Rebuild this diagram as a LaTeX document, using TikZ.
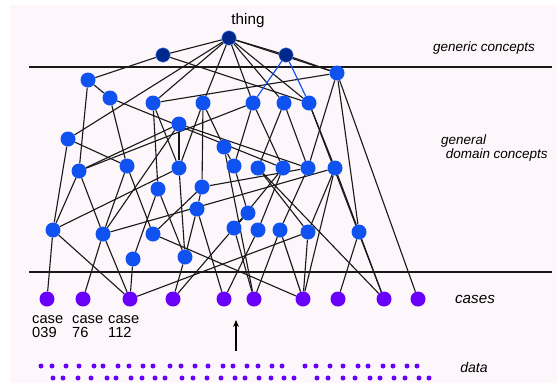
\documentclass[tikz,border=0pt]{standalone}
\usepackage{fontspec}
\setmainfont{Liberation Sans}
\usetikzlibrary{arrows.meta}

\definecolor{bgpink}{RGB}{253,246,250}
\definecolor{conceptblue}{RGB}{16,82,240}
\definecolor{topblue}{RGB}{0,40,140}
\definecolor{casepurple}{RGB}{104,0,250}
\pgfdeclarelayer{bg}
\pgfdeclarelayer{edges}
\pgfsetlayers{bg,edges,main}

\begin{document}
\begin{tikzpicture}[
        x=0.03cm, y=-0.03cm,
        concept/.style={circle, fill=conceptblue, inner sep=0pt, minimum size=0.45cm},
        topconcept/.style={circle, fill=topblue, draw=conceptblue!70, line width=0.4pt, inner sep=0pt, minimum size=0.43cm},
        case/.style={circle, fill=casepurple, inner sep=0pt, minimum size=0.45cm},
        datum/.style={circle, fill=casepurple, inner sep=0pt, minimum size=0.15cm},
        link/.style={black!90, line width=0.95pt},
        bluelink/.style={conceptblue, line width=1pt},
        layername/.style={font=\itshape\fontsize{11.5}{13}\selectfont},
        caselabel/.style={font=\fontsize{12.5}{12.5}\selectfont, align=left, anchor=north west, inner sep=0pt}
    ]
    \useasboundingbox (0,0) rectangle (557,383);
    \begin{pgfonlayer}{bg}
        \fill[bgpink] (10,5) rectangle (557,383);
    \end{pgfonlayer}

    % top and generic concepts
    \node[topconcept] (thing) at (229,38) {};
    \node[font=\fontsize{13}{15}\selectfont] at (248,21) {thing};
    \node[topconcept] (g1) at (163,55) {};
    \node[topconcept] (g2) at (286,55) {};

    % general domain concepts
    \node[concept] (a1) at (88,80) {};
    \node[concept] (a2) at (337,73) {};
    \node[concept] (b1) at (110,98) {};
    \node[concept] (b2) at (153,103) {};
    \node[concept] (b3) at (203,103) {};
    \node[concept] (b4) at (253,103) {};
    \node[concept] (b5) at (284,103) {};
    \node[concept] (b6) at (309,103) {};
    \node[concept] (c1) at (179,124) {};
    \node[concept] (c2) at (68,139) {};
    \node[concept] (c3) at (224,147) {};
    \node[concept] (d1) at (79,171) {};
    \node[concept] (d2) at (127,166) {};
    \node[concept] (d3) at (179,168) {};
    \node[concept] (d4) at (234,166) {};
    \node[concept] (d5) at (258,168) {};
    \node[concept] (d6) at (283,168) {};
    \node[concept] (d7) at (308,168) {};
    \node[concept] (d8) at (335,168) {};
    \node[concept] (e1) at (158,189) {};
    \node[concept] (e2) at (202,187) {};
    \node[concept] (f1) at (197,209) {};
    \node[concept] (f2) at (248,213) {};
    \node[concept] (h1) at (53,230) {};
    \node[concept] (h2) at (103,234) {};
    \node[concept] (h3) at (153,234) {};
    \node[concept] (h4) at (234,228) {};
    \node[concept] (h5) at (258,230) {};
    \node[concept] (h6) at (280,230) {};
    \node[concept] (h7) at (308,232) {};
    \node[concept] (h8) at (359,232) {};
    \node[concept] (i1) at (133,259) {};
    \node[concept] (i2) at (185,257) {};

    % cases
    \foreach \x [count=\i] in {47,83,130,173,224,254,303,338,384,418}
        \node[case] (k\i) at (\x,299) {};

    % connectors
    \begin{pgfonlayer}{edges}
        \draw[link] (29,67) -- (552,67);
        \draw[link] (29,272) -- (552,272);
        \foreach \a/\b in {thing/g1, thing/g2, thing/c2, thing/b2, thing/b3, thing/b4,
                thing/b5, thing/b6, thing/a2, g1/a1, g1/b6, g2/a2,
                a1/b1, a1/d1, a2/b2, a2/d7, a2/h8, a2/k10,
                b1/d2, b1/d6, b2/d3, b2/e1, b3/c3, b3/d3, b3/e2,
                b4/d4, b4/d6, b4/d1, b5/d5, b5/d7, b6/d8, b6/k9,
                c1/d3, c1/h2, c1/d7, c2/d2, c2/h1, c3/d4, c3/k6,
                d1/h1, d1/h2, d1/c1, d2/h2, d2/h3, d3/h1, d3/i2,
                d4/f2, d5/h7, d5/k9, d6/h4, d6/h5, d7/h6, d7/e2,
                d8/h7, d8/k7, d8/h8, d8/h2,
                e1/i1, e1/i2, e2/f1, e2/h3, f1/i2, f1/k5, f2/h4,
                h1/k1, h1/k3, h2/k2, h2/k3, h3/k7, i1/k3, i2/k4,
                h4/k4, h4/k6, h5/k5, h6/k6, h6/k7, h7/k3, h7/k7,
                h8/k8, h8/k9}
            \draw[link] (\a) -- (\b);
        \draw[bluelink] (g2) -- (b4);
        \draw[bluelink] (g2) -- (b6);
    \end{pgfonlayer}

    % data
    \foreach \x in {41,52,66,79,94,103,118,129,143,153,170,181,195,208,223,233,247,
            258,272,282,305,316,330,343,358,368,383,393,407,417}
        \node[datum] at (\x,366) {};
    \foreach \x in {53,63,78,91,107,116,131,142,155,165,182,193,207,221,235,245,
            259,271,284,294,317,328,343,355,370,380,394,405,419,429}
        \node[datum] at (\x,378) {};

    \node (arrowfoot) at (236,351) {};
    \coordinate (arrowtip) at (236,320);
    \draw[-{Stealth[length=6pt,width=5pt]}, line width=1.3pt] (arrowfoot.center) -- (arrowtip);

    % labels
    \node[layername] at (484,48) {generic concepts};
    \node[layername, align=left, anchor=west] at (437,148) {general\\[-1pt]\hspace*{4pt}domain concepts};
    \node[layername, font=\itshape\fontsize{13}{15}\selectfont] at (475,299) {cases};
    \node[layername, font=\itshape\fontsize{12}{14}\selectfont] at (474,367) {data};
    \node[caselabel] at (32,315) {case\\039};
    \node[caselabel] at (72,315) {case\\76};
    \node[caselabel] at (108,315) {case\\112};
\end{tikzpicture}
\end{document}
